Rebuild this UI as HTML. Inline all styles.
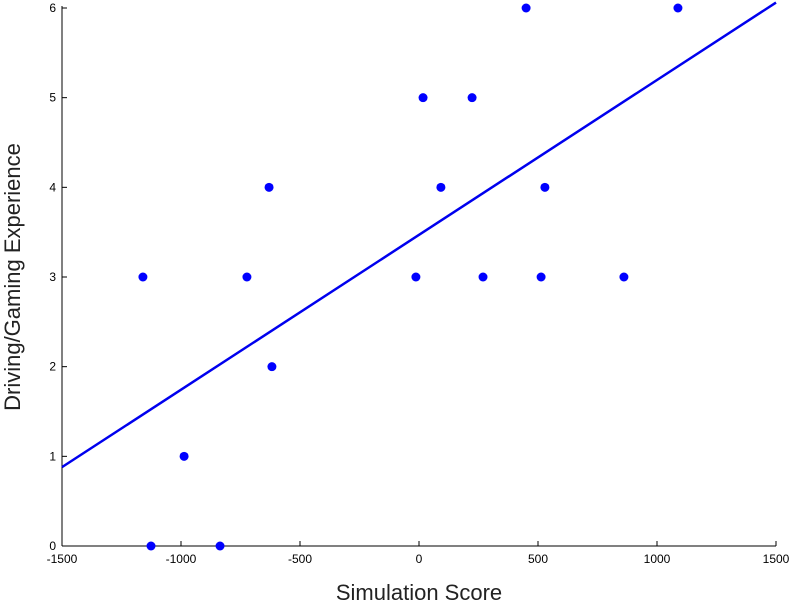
<!DOCTYPE html>
<html><head><meta charset="utf-8">
<style>
html,body{margin:0;padding:0;background:#fff;}
svg{display:block;font-family:"Liberation Sans",Arial,sans-serif;}
</style></head>
<body>
<svg id="chart" width="792" height="603" viewBox="0 0 792 603" xmlns="http://www.w3.org/2000/svg">
<g id="axes"></g>
<g id="fit"></g>
<g id="points"></g>
<text x="419" y="600" font-size="22" text-anchor="middle" fill="#222">Simulation Score</text>
<text transform="translate(20,277) rotate(-90)" font-size="22" text-anchor="middle" fill="#222">Driving/Gaming Experience</text>
</svg>
<script>
const xValues = [-1160,-1126,-987,-836,-723,-630,-618,-13,17,92,223,269,450,513,529,861,1088];
const yValues = [3,0,1,0,3,4,2,3,5,4,5,3,6,3,4,3,6];
const xTicks = [-1500,-1000,-500,0,500,1000,1500];
const xTickLabels = ["-1500","-1000","-500","0","500","1000","1500"];
const yTicks = [0,1,2,3,4,5,6];
const yTickLabels = ["0","1","2","3","4","5","6"];
const fitSlope = [0.001727];
const fitIntercept = [3.47];

const NS="http://www.w3.org/2000/svg";
const L=62,R=776,T=8,B=546;
const xs=v=>L+(v+1500)/3000*(R-L);
const ys=v=>B-v/6*(B-T);
function mk(tag,attrs,parent){const e=document.createElementNS(NS,tag);for(const k in attrs)e.setAttribute(k,attrs[k]);parent.appendChild(e);return e;}
const axes=document.getElementById('axes');
let e=mk('line',{x1:L,y1:T-2,x2:L,y2:B,stroke:'#000','stroke-width':1},axes);


e=mk('line',{x1:L,y1:B,x2:R,y2:B,stroke:'#000','stroke-width':1},axes);


xTicks.forEach((t,i)=>{
  const x=xs(t);
  let tk=mk('line',{x1:x,y1:B,x2:x,y2:B-5,stroke:'#000'},axes);
  
  
  let lb=mk('text',{x:x,y:B+17,'font-size':12,'text-anchor':'middle',fill:'#000'},axes);
  lb.textContent=xTickLabels[i];
  
  
});
yTicks.forEach((t,i)=>{
  const y=ys(t);
  let tk=mk('line',{x1:L,y1:y,x2:L+5,y2:y,stroke:'#000'},axes);
  
  
  let lb=mk('text',{x:L-6,y:y+4,'font-size':12,'text-anchor':'end',fill:'#000'},axes);
  lb.textContent=yTickLabels[i];
  
  
});
const fit=document.getElementById('fit');
const f=v=>fitIntercept[0]+fitSlope[0]*v;
let ln=mk('line',{x1:xs(-1500),y1:ys(f(-1500)),x2:xs(1500),y2:ys(f(1500)),stroke:'#0000ee','stroke-width':2.5},fit);


const pts=document.getElementById('points');
xValues.forEach((v,i)=>{
  let c=mk('circle',{cx:xs(v),cy:ys(yValues[i]),r:4.5,fill:'#0000ff'},pts);
  
  
});
</script>
</body></html>
